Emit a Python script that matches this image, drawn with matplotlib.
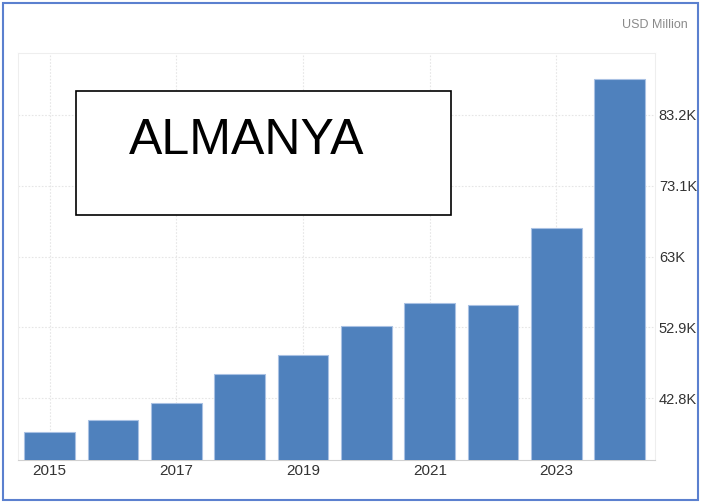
import matplotlib.pyplot as plt
from matplotlib.patches import Rectangle

# values (USD Million, thousands)
years = [2015, 2016, 2017, 2018, 2019, 2020, 2021, 2022, 2023, 2024]
values = [38.0, 39.7, 42.1, 46.2, 48.9, 53.1, 56.4, 56.1, 67.1, 88.35]
ytick_vals = [42.8, 52.9, 63.0, 73.1, 83.2]
ytick_labels = ["42.8K", "52.9K", "63K", "73.1K", "83.2K"]
xtick_years = [2015, 2017, 2019, 2021, 2023]

plt.rcParams['font.family'] = ['Liberation Sans', 'DejaVu Sans']

fig = plt.figure(figsize=(7.02, 5.03), dpi=100)
ax = fig.add_axes([0.0256, 0.0855, 0.907, 0.809])

ax.bar(years, values, width=0.8, color="#4f81bd", edgecolor="#a9c1e3", linewidth=0.8, zorder=3)

ax.set_xlim(2014.5, 2024.55)
ax.set_ylim(34.0, 92.0)
ax.set_xticks(xtick_years)
ax.set_xticklabels([str(y) for y in xtick_years])
ax.set_yticks(ytick_vals)
ax.set_yticklabels(ytick_labels)
ax.yaxis.tick_right()
ax.tick_params(axis='both', length=0, labelsize=11, colors="#333333")
ax.tick_params(axis='y', pad=3, labelsize=10.5)
ax.tick_params(axis='x', pad=3)
ax.grid(True, color="#e6e6e6", linestyle=(0, (1.5, 1.5)), linewidth=0.8, zorder=0)

for side in ['left', 'right', 'top']:
    ax.spines[side].set_color("#eeeeee")
    ax.spines[side].set_linewidth(0.8)
ax.spines['bottom'].set_color("#d0d0d0")

fig.text(0.98, 0.951, "USD Million", ha='right', va='center', fontsize=9, color="#8a8a8a")

# title box
fig.patches.append(Rectangle((0.1083, 0.5726), 0.534, 0.2465, transform=fig.transFigure,
                             facecolor='white', edgecolor='black', linewidth=1.2, zorder=5))
fig.text(0.352, 0.6938, "ALMANYA", ha='center', va='baseline', fontsize=36,
         color='black', zorder=6)

# outer border
fig.patches.append(Rectangle((0.004, 0.005), 0.991, 0.99, transform=fig.transFigure,
                             facecolor='none', edgecolor="#5b80cf", linewidth=1.5))

fig.savefig("out.png", dpi=100)
